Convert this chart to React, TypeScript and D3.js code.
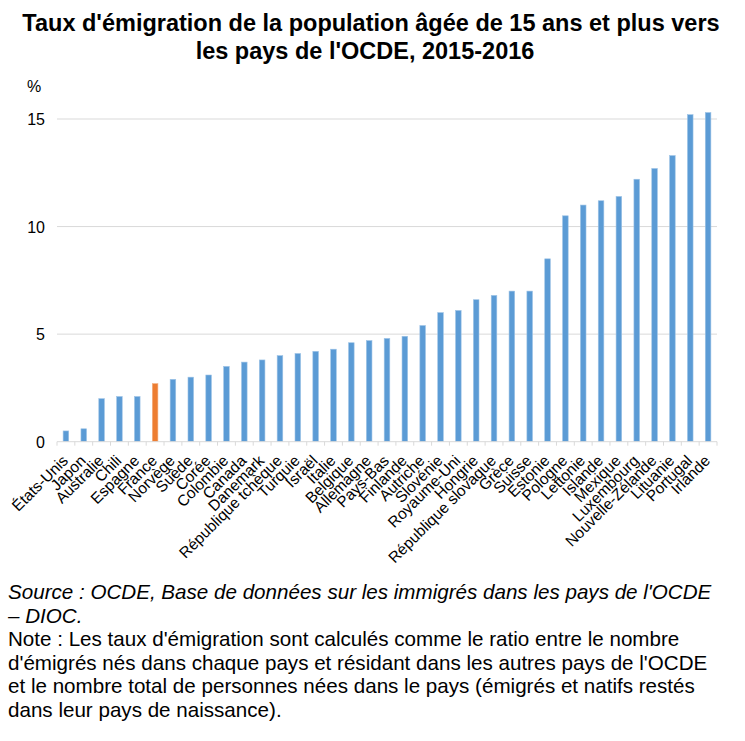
import React from "react";
import * as d3 from "d3";

const categories = [
  "États-Unis", "Japon", "Australie", "Chili", "Espagne", "France", "Norvège", "Suède", "Corée",
  "Colombie", "Canada", "Danemark", "République tchèque", "Turquie", "Israël", "Italie", "Belgique",
  "Allemagne", "Pays-Bas", "Finlande", "Autriche", "Slovénie", "Royaume-Uni", "Hongrie",
  "République slovaque", "Grèce", "Suisse", "Estonie", "Pologne", "Lettonie", "Islande", "Mexique",
  "Luxembourg", "Nouvelle-Zélande", "Lituanie", "Portugal", "Irlande",
];
const values = [
  0.5, 0.6, 2.0, 2.1, 2.1, 2.7, 2.9, 3.0, 3.1, 3.5, 3.7, 3.8, 4.0, 4.1, 4.2, 4.3, 4.6, 4.7, 4.8,
  4.9, 5.4, 6.0, 6.1, 6.6, 6.8, 7.0, 7.0, 8.5, 10.5, 11.0, 11.2, 11.4, 12.2, 12.7, 13.3, 15.2, 15.3,
];
const highlight = "France";
const yTicks = [0, 5, 10, 15];
const titleLines = [
  "Taux d'émigration de la population âgée de 15 ans et plus vers",
  "les pays de l'OCDE, 2015-2016",
];
const sourceLines = [
  "Source : OCDE, Base de données sur les immigrés dans les pays de l'OCDE",
  "– DIOC.",
];
const noteLines = [
  "Note : Les taux d'émigration sont calculés comme le ratio entre le nombre",
  "d'émigrés nés dans chaque pays et résidant dans les autres pays de l'OCDE",
  "et le nombre total de personnes nées dans le pays (émigrés et natifs restés",
  "dans leur pays de naissance).",
];

export default function App() {
  const W = 745, H = 741;
  const left = 57, right = 717, y0 = 441.7, y15 = 119;
  const x = d3.scaleBand<string>().domain(categories).range([left, right]).padding(0);
  const y = d3.scaleLinear().domain([0, 15]).range([y0, y15]);
  const bw = 5.6;
  const font = "'Liberation Sans', Arial, sans-serif";
  const titleX = [371, 365];
  return (
    <svg width={W} height={H} style={{ position: "absolute", left: 0, top: 0 }} fontFamily={font}>
      <rect width={W} height={H} fill="#fff" />
      {titleLines.map((t, i) => (
        <text key={i} x={titleX[i]} y={31 + i * 28} textAnchor="middle" fontWeight="bold" fontSize={23.5} fill="#000">
          {t}
        </text>
      ))}
      <text x={27} y={92} fontSize={16} fill="#000">%</text>
      {yTicks.map((t) => (
        <g key={t}>
          {t > 0 && <line x1={left} x2={right} y1={y(t)} y2={y(t)} stroke="#d9d9d9" strokeWidth={1} />}
          <text x={45} y={y(t) + 6} textAnchor="end" fontSize={16} fill="#000">{t}</text>
        </g>
      ))}
      {categories.map((c, i) => (
        <rect
          key={c}
          x={x(c)! + x.bandwidth() / 2 - bw / 2}
          y={y(values[i])}
          width={bw}
          height={y0 - y(values[i])}
          fill={c === highlight ? "#ED7D31" : "#5B9BD5"}
          stroke={c === highlight ? "#F4B183" : "#9DC3E6"}
          strokeWidth={0.6}
        />
      ))}
      <line x1={left} x2={right} y1={y0} y2={y0} stroke="#d9d9d9" strokeWidth={1} />
      {categories.map((c, i) => (
        <line key={"t" + i} x1={x(c)!} x2={x(c)!} y1={y0} y2={y0 + 4} stroke="#d9d9d9" strokeWidth={1} />
      ))}
      <line x1={right} x2={right} y1={y0} y2={y0 + 4} stroke="#d9d9d9" strokeWidth={1} />
      {categories.map((c) => {
        const cx = x(c)! + x.bandwidth() / 2 + 3;
        const cy = y0 + 20;
        return (
          <text key={"l" + c} transform={`translate(${cx},${cy}) rotate(-45)`} textAnchor="end" fontSize={15.5} fill="#000">
            {c}
          </text>
        );
      })}
      {sourceLines.map((t, i) => (
        <text key={"s" + i} x={8} y={599 + i * 23.6} fontSize={20.6} fontStyle="italic" fill="#000">{t}</text>
      ))}
      {noteLines.map((t, i) => (
        <text key={"n" + i} x={8} y={646 + i * 23.6} fontSize={20.6} fill="#000">{t}</text>
      ))}
    </svg>
  );
}
